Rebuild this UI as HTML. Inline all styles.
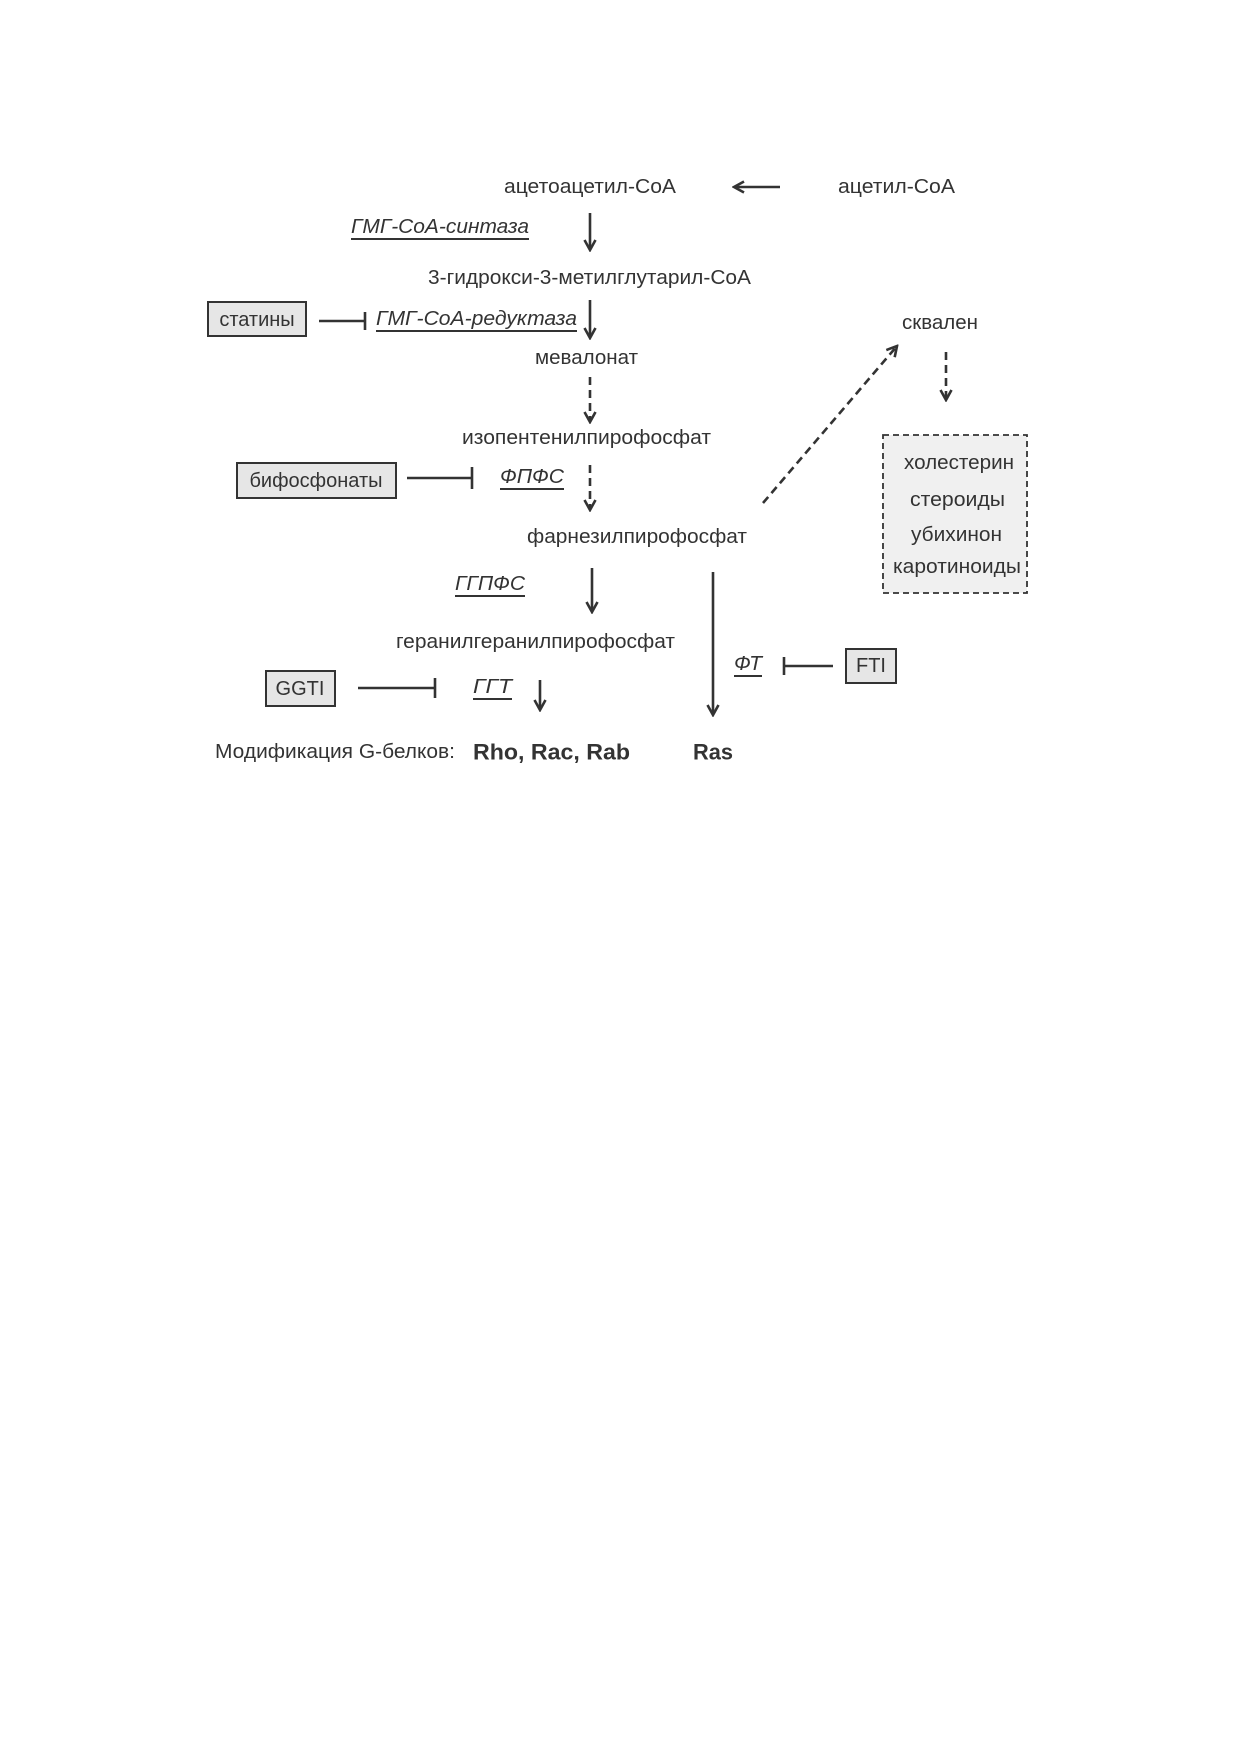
<!DOCTYPE html>
<html><head><meta charset="utf-8"><style>body{margin:0;background:#fff}svg{display:block}</style></head><body>
<svg width="1240" height="1754" viewBox="0 0 1240 1754" xmlns="http://www.w3.org/2000/svg" font-family="Liberation Sans, DejaVu Sans, sans-serif" fill="#333" font-size="20">
<defs>
<marker id="a" viewBox="0 0 14 14" refX="12" refY="7" markerWidth="14" markerHeight="14" markerUnits="userSpaceOnUse" orient="auto"><path d="M2,1.5 L12,7 L2,12.5" fill="none" stroke="#333" stroke-width="2.6"/></marker>
</defs>
<g stroke="#333" stroke-width="2.6" fill="none">
<line x1="780" y1="187" x2="734" y2="187" marker-end="url(#a)"/>
<line x1="590" y1="213" x2="590" y2="250" marker-end="url(#a)"/>
<line x1="590" y1="300" x2="590" y2="338" marker-end="url(#a)"/>
<line x1="590" y1="377" x2="590" y2="422" stroke-dasharray="8,5" marker-end="url(#a)"/>
<line x1="590" y1="465" x2="590" y2="510" stroke-dasharray="8,5" marker-end="url(#a)"/>
<line x1="592" y1="568" x2="592" y2="612" marker-end="url(#a)"/>
<line x1="540" y1="680" x2="540" y2="710" marker-end="url(#a)"/>
<line x1="713" y1="572" x2="713" y2="715" marker-end="url(#a)"/>
<line x1="763" y1="503" x2="897" y2="346" stroke-dasharray="8,5" marker-end="url(#a)"/>
<line x1="946" y1="352" x2="946" y2="400" stroke-dasharray="8,5" marker-end="url(#a)"/>
<line x1="319" y1="321" x2="365" y2="321"/><line x1="365" y1="312" x2="365" y2="330"/>
<line x1="407" y1="478" x2="472" y2="478"/><line x1="472" y1="467" x2="472" y2="489"/>
<line x1="358" y1="688" x2="435" y2="688"/><line x1="435" y1="678" x2="435" y2="698"/>
<line x1="833" y1="666" x2="784" y2="666"/><line x1="784" y1="657" x2="784" y2="675"/>
</g>
<g fill="#e6e6e6" stroke="#333" stroke-width="2">
<rect x="208" y="302" width="98" height="34"/>
<rect x="237" y="463" width="159" height="35"/>
<rect x="266" y="671" width="69" height="35"/>
<rect x="846" y="649" width="50" height="34"/>
</g>
<rect x="883" y="435" width="144" height="158" fill="#f0f0f0" stroke="#333" stroke-width="1.8" stroke-dasharray="6,4"/>
<g dominant-baseline="central">
<text x="504" y="187" textLength="172" lengthAdjust="spacingAndGlyphs">ацетоацетил-СоА</text>
<text x="838" y="187" textLength="117" lengthAdjust="spacingAndGlyphs">ацетил-СоА</text>
<text x="428" y="278" textLength="323" lengthAdjust="spacingAndGlyphs">3-гидрокси-3-метилглутарил-СоА</text>
<text x="535" y="358" textLength="103" lengthAdjust="spacingAndGlyphs">мевалонат</text>
<text x="462" y="438" textLength="249" lengthAdjust="spacingAndGlyphs">изопентенилпирофосфат</text>
<text x="527" y="537" textLength="220" lengthAdjust="spacingAndGlyphs">фарнезилпирофосфат</text>
<text x="396" y="642" textLength="279" lengthAdjust="spacingAndGlyphs">геранилгеранилпирофосфат</text>
<text x="902" y="323" textLength="76" lengthAdjust="spacingAndGlyphs">сквален</text>
<text x="904" y="463" textLength="110" lengthAdjust="spacingAndGlyphs">холестерин</text>
<text x="910" y="500" textLength="95" lengthAdjust="spacingAndGlyphs">стероиды</text>
<text x="911" y="535" textLength="91" lengthAdjust="spacingAndGlyphs">убихинон</text>
<text x="893" y="567" textLength="128" lengthAdjust="spacingAndGlyphs">каротиноиды</text>
<text x="257" y="320" text-anchor="middle">статины</text>
<text x="316" y="481" text-anchor="middle">бифосфонаты</text>
<text x="300" y="689" text-anchor="middle">GGTI</text>
<text x="871" y="666" text-anchor="middle">FTI</text>
<text x="215" y="752" textLength="240" lengthAdjust="spacingAndGlyphs">Модификация G-белков:</text>
<text x="473" y="752" font-weight="bold" font-size="22" textLength="157" lengthAdjust="spacingAndGlyphs">Rho, Rac, Rab</text>
<text x="693" y="752" font-weight="bold" font-size="22" textLength="40" lengthAdjust="spacingAndGlyphs">Ras</text>
<g font-style="italic" text-decoration="underline">
<text x="351" y="227" textLength="178" lengthAdjust="spacingAndGlyphs">ГМГ-СоА-синтаза</text>
<text x="376" y="319" textLength="201" lengthAdjust="spacingAndGlyphs">ГМГ-СоА-редуктаза</text>
<text x="500" y="477" textLength="64" lengthAdjust="spacingAndGlyphs">ФПФС</text>
<text x="455" y="584" textLength="70" lengthAdjust="spacingAndGlyphs">ГГПФС</text>
<text x="473" y="687" textLength="39" lengthAdjust="spacingAndGlyphs">ГГТ</text>
<text x="734" y="664" textLength="28" lengthAdjust="spacingAndGlyphs">ФТ</text>
</g>
</g>
</svg>
</body></html>
